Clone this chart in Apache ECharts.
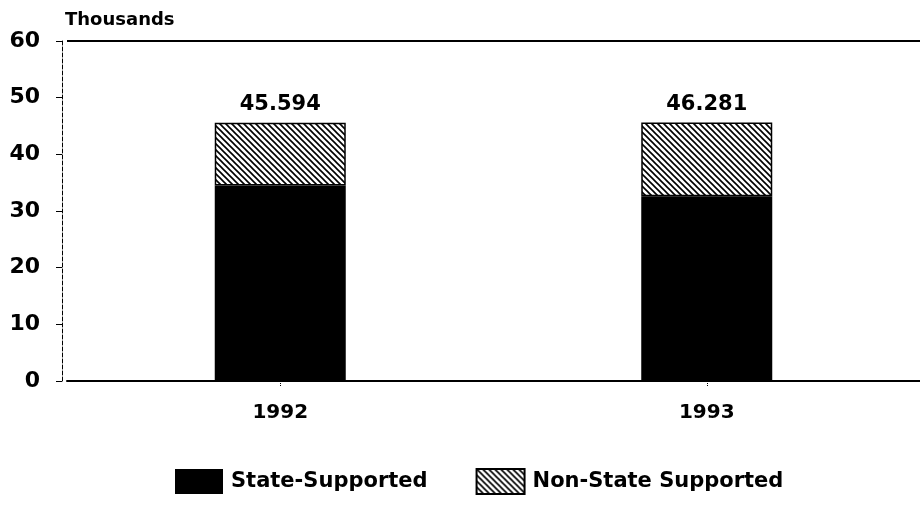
<!DOCTYPE html>
<html>
<head>
<meta charset="utf-8">
<script src="https://cdn.jsdelivr.net/npm/echarts@6/dist/echarts.min.js"></script>
<style>
  html, body { margin: 0; padding: 0; background: #fff; }
  #chart { width: 920px; height: 506px; }
</style>
</head>
<body>
<div id="chart"></div>
<script>
var years = ['1992', '1993'];
var stateSupported = [34.5, 32.6];
var nonStateSupported = [11.094, 13.0];
var totalLabels = ['45.594', '46.281'];
var yTicks = [0, 10, 20, 30, 40, 50, 60];

// diagonal hatch, like the old printout
function hatch() {
    var c = document.createElement('canvas');
    c.width = 6; c.height = 6;
    var ctx = c.getContext('2d');
    ctx.fillStyle = '#fff';
    ctx.fillRect(0, 0, 6, 6);
    ctx.strokeStyle = '#000';
    ctx.lineWidth = 1.6;
    ctx.beginPath();
    ctx.moveTo(-1, -1); ctx.lineTo(7, 7);
    ctx.moveTo(-4, 2); ctx.lineTo(4, 10);
    ctx.moveTo(2, -4); ctx.lineTo(10, 4);
    ctx.stroke();
    return { image: c, repeat: 'repeat' };
}

var myChart = echarts.init(document.getElementById('chart'));

var font = 'DejaVu Sans, Verdana, sans-serif';

// only the top gridline is drawn
var splitColors = yTicks.map(function(v) { return v === 60 ? '#000' : 'transparent'; });

option = {
    animation: false,
    backgroundColor: '#fff',
    textStyle: { fontFamily: font },
    title: {
        text: 'Thousands',
        left: 60,
        top: 6,
        textStyle: { fontSize: 18, fontWeight: 'bold', color: '#000', fontFamily: font }
    },
    legend: {
        bottom: 6,
        left: 170,
        itemWidth: 48,
        itemHeight: 25,
        itemGap: 48,
        icon: 'rect',
        textStyle: { fontSize: 21, fontWeight: 'bold', color: '#000', fontFamily: font, padding: [0, 0, 0, 3] },
        data: ['State-Supported', 'Non-State Supported']
    },
    // plot shifted right a little; the y axis is pulled back with offset
    grid: {
        left: 67,
        right: 0,
        top: 41,
        bottom: 125
    },
    xAxis: {
        type: 'category',
        data: years,
        axisLine: { lineStyle: { color: '#000', width: 2 } },
        axisTick: { show: true, alignWithLabel: true, length: 5, lineStyle: { color: '#000', type: 'dotted' } },
        axisLabel: { fontSize: 20, fontWeight: 'bold', color: '#000', margin: 22, fontFamily: font }
    },
    yAxis: {
        type: 'value',
        min: 0,
        max: 60,
        interval: 10,
        offset: 5,
        axisLine: { show: true, lineStyle: { color: '#000', type: 'dashed', width: 1 } },
        axisTick: { show: true, length: 6, lineStyle: { color: '#000' } },
        axisLabel: { fontSize: 22, fontWeight: 'bold', color: '#000', margin: 22, fontFamily: font },
        splitLine: { show: true, lineStyle: { color: splitColors, width: 2 } }
    },
    series: [{
            name: 'State-Supported',
            type: 'bar',
            stack: 'Total',
            barWidth: 131,
            itemStyle: { color: '#000' },
            data: stateSupported
        },
        {
            name: 'Non-State Supported',
            type: 'bar',
            stack: 'Total',
            barWidth: 131,
            itemStyle: { color: hatch(), borderColor: '#000', borderWidth: 1.5 },
            label: {
                show: true,
                position: 'top',
                distance: 8,
                fontSize: 21,
                fontWeight: 'bold',
                color: '#000',
                fontFamily: font,
                formatter: function(p) { return totalLabels[p.dataIndex]; }
            },
            data: nonStateSupported
        }
    ]
};

option && myChart.setOption(option);
</script>
</body>
</html>
